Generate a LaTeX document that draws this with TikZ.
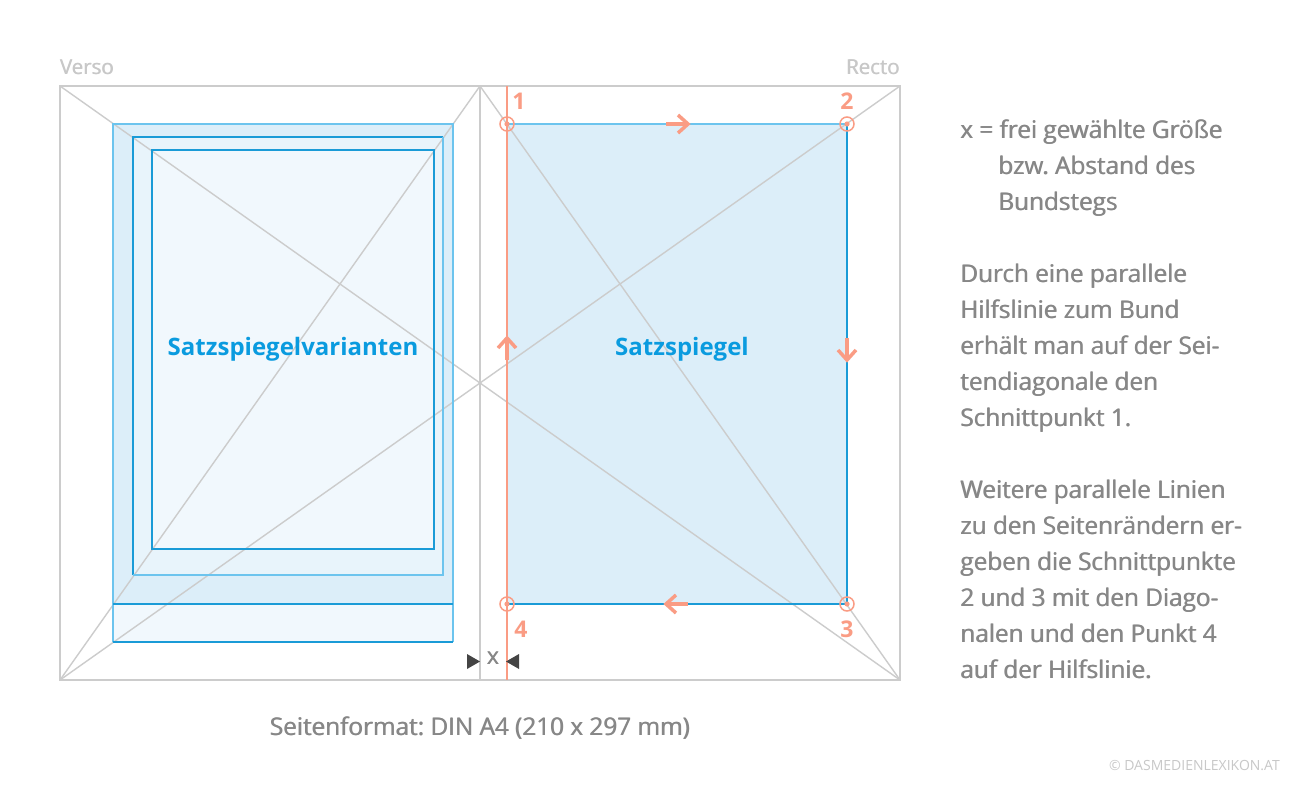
\documentclass[tikz,border=0pt]{standalone}
\usepackage{fontspec}
\setmainfont{Open Sans}
\frenchspacing
\newcommand\sbt[1]{\rlap{#1}\kern0.65pt#1}
\definecolor{pagegray}{HTML}{CCCCCC}
\definecolor{txtgray}{HTML}{878787}
\definecolor{lightgray}{HTML}{C8C8C8}
\definecolor{salmon}{HTML}{FA9C84}
\definecolor{bluetxt}{HTML}{0A9BDF}
\definecolor{bluedark}{HTML}{1A9BD7}
\definecolor{bluelight}{HTML}{6CC4EE}
\definecolor{fillA}{HTML}{DCEEF9}
\definecolor{fillB}{HTML}{E8F4FB}
\definecolor{fillC}{HTML}{F1F8FD}
\definecolor{darktri}{HTML}{444444}
\tikzset{
  page/.style={draw=pagegray, line width=2pt},
  diag/.style={draw=pagegray, line width=1.4pt},
  bdark/.style={draw=bluedark, line width=1.2pt},
  blight/.style={draw=bluelight, line width=2pt},
  ptcirc/.style={circle, draw=salmon, line width=1.5pt, minimum size=14pt, inner sep=0pt},
  numlbl/.style={text=salmon, font=\fontsize{23}{26}\selectfont\bfseries},
  sidetxt/.style={anchor=base west, text=txtgray, inner sep=0pt, font=\fontsize{24.3}{26}\selectfont},
  arw/.pic={
    \draw[salmon, line width=3.5pt, line join=miter] (-11,0) -- (11,0);
    \draw[salmon, line width=3.5pt, line join=miter] (1,-9) -- (11,0) -- (1,9);
  }
}
\begin{document}
\begin{tikzpicture}[x=1pt,y=-1pt]
\useasboundingbox (0,0) rectangle (1310,790);
\fill[white] (0,0) rectangle (1310,790);

% left page variants (fills)
\fill[fillC] (113,124) rectangle (453,642);
\fill[fillA] (113,124) rectangle (453,604);
\fill[fillB] (133,137) rectangle (443,575);
\fill[fillC] (152,150) rectangle (434,549);
% right page Satzspiegel fill
\fill[fillA] (507,124) rectangle (847,604);

% diagonals
\draw[diag] (60,86) -- (900,680);
\draw[diag] (60,680) -- (900,86);
\draw[diag] (480,86) -- (60,680);
\draw[diag] (480,86) -- (900,680);

% left page borders
\draw[blight] (113,642) -- (113,124) -- (453,124) -- (453,642);
\draw[bdark] (113,642) -- (453,642);
\draw[bdark] (113,604) -- (453,604);
\draw[bdark] (133,575) -- (133,137) -- (443,137);
\draw[blight] (133,575) -- (443,575) -- (443,137);
\draw[bdark] (152,150) rectangle (434,549);

% right page Satzspiegel borders
\draw[blight] (507,124) -- (847,124);
\draw[bdark] (847,124) -- (847,604) -- (507,604);

% page frame and gutter
\draw[page] (60,86) rectangle (900,680);
\draw[page] (480,86) -- (480,680);

% auxiliary line
\coordinate (ht) at (507,86);
\coordinate (hb) at (507,680);
\draw[salmon, line width=1.2pt] (ht) -- (hb);

% points
\node[ptcirc] (p1) at (507,124) {};
\node[ptcirc] (p2) at (847,124) {};
\node[ptcirc] (p3) at (847,604) {};
\node[ptcirc] (p4) at (507,604) {};
\foreach \p in {p1,p2,p3,p4} \fill[salmon] (\p.center) circle (2.6pt);

\node[numlbl] (n1) at (519,101) {1};
\node[numlbl] (n2) at (847,101) {2};
\node[numlbl] (n3) at (847,629) {3};
\node[numlbl] (n4) at (521,629) {4};

% direction arrows
\pic at (677,124) {arw};
\pic[rotate=-90] at (847,349) {arw};
\pic[rotate=180] at (677,604) {arw};
\pic[rotate=90] at (507,349) {arw};

% x marker
\fill[darktri] (467,654) -- (480,661.5) -- (467,669) -- cycle;
\fill[darktri] (519,654) -- (506,661.5) -- (519,669) -- cycle;
\node[text=txtgray, font=\fontsize{23.5}{26}\selectfont] (xl) at (493,658) {\sbt{x}};

% page labels
\node[text=lightgray, font=\fontsize{20.5}{24}\selectfont] (verso) at (87,67) {\sbt{Verso}};
\node[text=lightgray, font=\fontsize{20.5}{24}\selectfont] (recto) at (873,67) {\sbt{Recto}};

\node[text=bluetxt, font=\fontsize{24}{26}\selectfont\bfseries] (ssv) at (293,349) {Satzspiegelvarianten};
\node[text=bluetxt, font=\fontsize{24}{26}\selectfont\bfseries] (ss) at (682,349) {Satzspiegel};

% caption
\node[text=txtgray, font=\fontsize{24.3}{26}\selectfont] (cap) at (480,728) {\sbt{Seitenformat: DIN A4 (210 x 297 mm)}};

% side text
\node[sidetxt] (t1) at (960,138) {\sbt{x = frei gewählte Größe}};
\node[sidetxt] (t2) at (998,174) {\sbt{bzw. Abstand des}};
\node[sidetxt] (t3) at (998,210) {\sbt{Bundstegs}};
\node[sidetxt] (t4) at (960,282) {\sbt{Durch eine parallele}};
\node[sidetxt] (t5) at (960,318) {\sbt{Hilfslinie zum Bund}};
\node[sidetxt] (t6) at (960,354) {\sbt{erhält man auf der Sei-}};
\node[sidetxt] (t7) at (960,390) {\sbt{tendiagonale den}};
\node[sidetxt] (t8) at (960,426) {\sbt{Schnittpunkt 1.}};
\node[sidetxt] (t9) at (960,498) {\sbt{Weitere parallele Linien}};
\node[sidetxt] (t10) at (960,534) {\sbt{zu den Seitenrändern er-}};
\node[sidetxt] (t11) at (960,570) {\sbt{geben die Schnittpunkte}};
\node[sidetxt] (t12) at (960,606) {\sbt{2 und 3 mit den Diago-}};
\node[sidetxt] (t13) at (960,642) {\sbt{nalen und den Punkt 4}};
\node[sidetxt] (t14) at (960,678) {\sbt{auf der Hilfslinie.}};

% copyright
\node[text=lightgray, font=\fontsize{14}{16}\selectfont, anchor=east, inner sep=0pt] (copy) at (1280,766) {© DASMEDIENLEXIKON.AT};
\end{tikzpicture}
\end{document}
